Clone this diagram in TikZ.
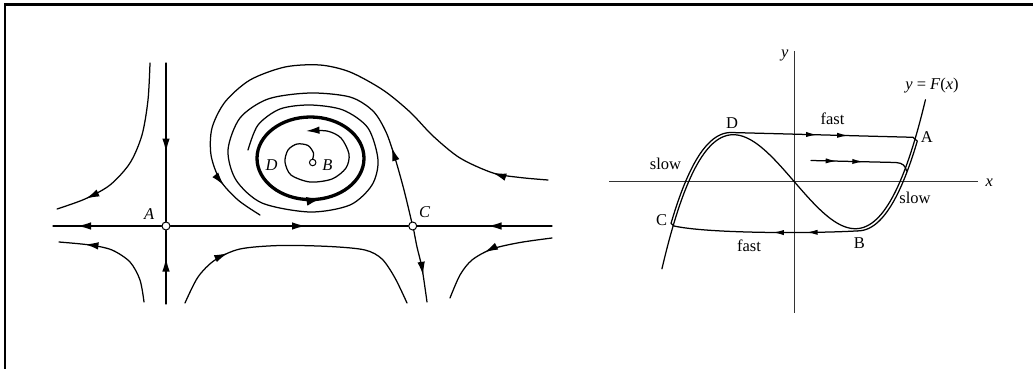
\documentclass[tikz,border=0pt]{standalone}
\usepackage{fontspec}
\setmainfont{Liberation Serif}
\usetikzlibrary{arrows.meta,decorations.markings}
\tikzset{
  ln/.style={line width=1.25pt, line cap=round, line join=round},
  axisline/.style={line width=1.1pt, draw=black!80},
  arrL/.style={postaction={decorate,decoration={markings,mark=at position #1 with {\arrow{Latex[length=13.5pt,width=7.5pt]}}}}},
  arrS/.style={postaction={decorate,decoration={markings,mark=at position #1 with {\arrow{Latex[length=11pt,width=5.2pt]}}}}},
  arrT/.style={postaction={decorate,decoration={markings,mark=at position #1 with {\arrow{Latex[length=16pt,width=9pt]}}}}},
  fixpt/.style={circle, draw, fill=white, line width=1pt, inner sep=0pt, minimum size=8pt},
  fixptS/.style={circle, draw, fill=white, line width=1pt, inner sep=0pt, minimum size=6.5pt},
  lbl/.style={inner sep=0pt, font=\fontsize{16.5}{19}\selectfont},
  lbli/.style={inner sep=0pt, font=\fontsize{16.5}{19}\selectfont\itshape},
}
\begin{document}
\begin{tikzpicture}[x=1pt,y=-1pt]
\useasboundingbox (0,0) rectangle (1033,369);
% frame (top and left)
\draw[line width=2.7pt] (5,369) -- (5,4.7) -- (1034,4.7);

% ---------------- left phase portrait ----------------
\node[fixpt] (A) at (166,226) {};
\node[fixpt] (C) at (412.7,226) {};
\node[fixptS] (B) at (312.7,162.5) {};
\coordinate (W) at (53,226);
\coordinate (E) at (552,226);
\coordinate (N) at (166,63);
\coordinate (S) at (166,304);

\draw[ln, arrL=84pt] (A) -- (W);
\draw[ln, arrL=135pt] (A) -- (C);
\draw[ln, arrL=64pt] (E) -- (C);
\draw[ln, arrL=89pt] (N) -- (A);
\draw[ln, arrL=46pt] (S) -- (A);

% hyperbolic branches near A
\draw[ln, arrL=0.84] plot[smooth] coordinates {(150,63) (148,100) (142,135) (130,163) (110,185) (85,199) (57,209)};
\draw[ln, arrL=0.78] plot[smooth] coordinates {(144,302) (140,280) (130,262) (112,250) (90,245) (59,242)};
% lower middle
\draw[ln, arrL=0.245] plot[smooth] coordinates {(185,303) (198,277) (215,260) (240,249) (280,245.5) (330,246.5) (365,250) (382,259) (395,278) (407,303)};
% lower right
\draw[ln, arrL=0.54] plot[smooth] coordinates {(552,238) (520,242.5) (492,249) (472,260) (460,275) (450,298)};
% through C downward
\draw[ln, arrL=0.63] plot[smooth] coordinates {(C.284) (417,247) (422,268) (427,302)};
% through C upward, spiralling onto the cycle
\draw[ln, arrL=0.111] plot[smooth] coordinates {(C.104) (404,190) (395,158) (386,132) (373,111) (350,97) (310,93) (268,99) (240,118) (228,150) (236,180) (262,203) (310,212) (350,205) (372,185) (378,160) (368,128) (343,110) (310,105) (280,109) (258,125) (248,150)};
% big outer curve
\draw[ln, arrL=0.11, arrL=0.907] plot[smooth] coordinates {(548,180) (520,177.5) (493,173) (460,158) (433,136) (410,112) (383,90) (350,72) (320,65) (285,67) (250,80) (225,102) (212,128) (211,155) (220,180) (238,200) (260,215)};
% limit cycle
\draw[line width=3.3pt, arrT=0.29] (257,158.3) arc[start angle=180, end angle=0, x radius=53.5, y radius=41.3] arc[start angle=0, end angle=-180, x radius=53.5, y radius=41.3];
% inner spiral from B
\draw[ln, -{Latex[length=13.5pt,width=7.5pt]}] plot[smooth] coordinates {(B.90) (313.5,153) (308,145.5) (297,144) (288,150) (285,162) (291,175) (310,182) (332,179) (346,168) (349,154) (341,138) (327,131) (306,131)};

\node[lbli] (lA) at (149.2,213.7) {A};
\node[lbli] (lC) at (424.5,212.5) {C};
\node[lbli] (lD) at (271.7,165) {D};
\node[lbli] (lB) at (327.5,165) {B};

% ---------------- right relaxation oscillation ----------------
\coordinate (O) at (794.3,181.7);
\draw[axisline] (609,181.7) -- (978,181.7);
\draw[axisline] (794.3,51) -- (794.3,313);
% cubic y = F(x)
\draw[ln] plot[domain=-2.17:2.15, samples=120, smooth] ({794.3+61*\x},{181.7-23.5*(\x*\x*\x-3*\x)});
% slow left branch (C to D)
\draw[ln] (674,226) -- (671,223.4) -- plot[domain=-1.985:-1, samples=40, smooth] ({794.3+61*\x-2.2},{181.7-23.5*(\x*\x*\x-3*\x)-2.2});
% fast top (D to A)
\draw[ln, arrS=86.2pt, arrS=117.3pt] (730.9,132.5) -- (913,137.3);
% slow right branch (A to B)
\draw[ln] (913,137.3) -- plot[domain=1.98:1.0, samples=40, smooth] ({794.3+61*\x+2.2},{181.7-23.5*(\x*\x*\x-3*\x)+2.2});
% fast bottom (B to C)
\draw[ln, arrS=51pt, arrS=84.7pt] (857.5,230.9) .. controls (830,232.5) and (790,232.8) .. (760,232.3) .. controls (720,231.5) and (690,229.5) .. (674,226);
% transient trajectory
\draw[ln, arrS=25.7pt, arrS=52.3pt] (811,160.5) -- (896,162.5) .. controls (903,163) and (905.5,166) .. (906.5,171);

\node[lbli] (ly) at (784.8,55.8) {y};
\node[lbli] (lx) at (989.3,182.3) {x};
\node[lbl] (lF) at (932,85.8) {\textit{y} = \textit{F}(\textit{x})};
\node[lbl] (lfast1) at (832.5,118.7) {fast};
\node[lbl] (lfast2) at (749,245.8) {fast};
\node[lbl] (lslow1) at (665.5,163.8) {slow};
\node[lbl] (lslow2) at (915,198.3) {slow};
\node[lbl] (rD) at (732,123.3) {D};
\node[lbl] (rA) at (926.7,137) {A};
\node[lbl] (rC) at (661.7,220.5) {C};
\node[lbl] (rB) at (859.3,242.8) {B};
\end{tikzpicture}
\end{document}
